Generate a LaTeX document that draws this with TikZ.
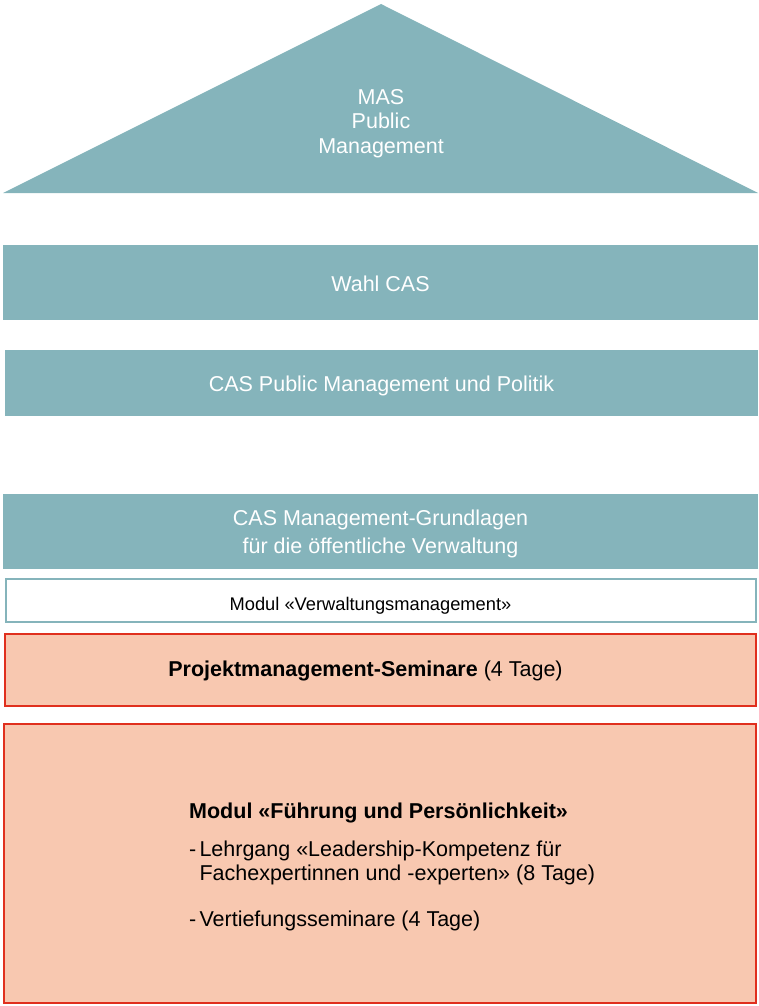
\documentclass[tikz,border=0pt]{standalone}
\usepackage{fontspec}
\setmainfont{Liberation Sans}
\definecolor{casteal}{HTML}{85B4BB}
\definecolor{kurssalmon}{HTML}{F8C8B0}
\definecolor{kursred}{HTML}{E0301E}
\newcommand{\spiegel}{\makebox[10.3pt][l]{-}}
\tikzset{
  band/.style={fill=casteal, text=white, inner sep=0pt, align=center,
    text depth=0pt, font=\fontsize{21.5}{28.4}\selectfont},
  kurs/.style={draw=kursred, line width=2pt, fill=kurssalmon, inner sep=0pt,
    font=\fontsize{21.5}{23.3}\selectfont},
  modul/.style={draw=casteal, line width=2pt, fill=white, inner sep=0pt,
    font=\fontsize{18.3}{22}\selectfont}
}
\begin{document}
\begin{tikzpicture}[x=1pt, y=-1pt]
\useasboundingbox (0,0) rectangle (758,1006);
% Dach
\fill[casteal] (3,193) -- (381,4) -- (758,193) -- cycle;
\node[text=white, align=center, font=\fontsize{21.5}{24.7}\selectfont] (mas) at (381,123.5)
  {MAS\\Public\\Management};
% CAS-Stufen
\node[band, text height=17pt, minimum width=755pt, minimum height=75pt] (wahl) at (380.5,282.5)
  {Wahl CAS};
\node[band, text height=16.6pt, minimum width=753pt, minimum height=66pt] (politik) at (381.5,383)
  {CAS Public Management und Politik};
\node[band, minimum width=755pt, minimum height=75pt] (grundlagen) at (380.5,531.5)
  {CAS Management-Grundlagen\\f\"ur die \"offentliche Verwaltung};
% Module
\node[modul, text height=20pt, text depth=0pt, minimum width=750pt, minimum height=43pt]
  (verwaltung) at (381,600.5) {Modul «Verwaltungsmanagement»\hspace*{21pt}};
\node[kurs, text height=14.4pt, text depth=0pt, minimum width=751pt, minimum height=72pt]
  (projekt) at (380.5,669.5) {\textbf{Projektmanagement-Seminare} (4 Tage)\hspace*{30pt}};
\node[kurs, minimum width=752pt, minimum height=279pt] (fuehrung) at (380,863.5) {};
\node[anchor=north west, align=left, inner sep=0pt, font=\fontsize{21.5}{23.3}\selectfont]
  (fuehrungtext) at (189,802.6)
  {\textbf{Modul «F\"uhrung und Pers\"onlichkeit»}\\[15.1pt]
   \spiegel Lehrgang «Leadership-Kompetenz f\"ur\\
   \hspace*{10.3pt}Fachexpertinnen und -experten» (8 Tage)\\[23.4pt]
   \spiegel Vertiefungsseminare (4 Tage)};
\end{tikzpicture}
\end{document}
